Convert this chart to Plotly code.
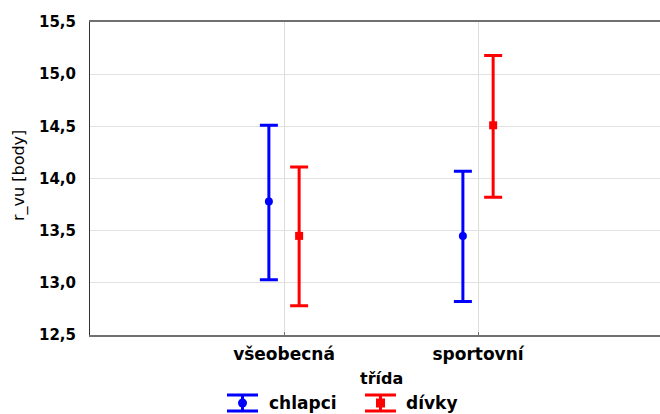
import plotly.graph_objects as go

categories = ["všeobecná", "sportovní"]
chlapci_mean = [13.78, 13.45]
chlapci_upper = [14.51, 14.07]
chlapci_lower = [13.03, 12.82]
divky_mean = [13.45, 14.51]
divky_upper = [14.11, 15.18]
divky_lower = [12.78, 13.82]
series_names = ["chlapci", "dívky"]
series_colors = ["#0000ff", "#ff0000"]

offset = 0.078
xpos = list(range(len(categories)))

def trace(name, means, up, lo, color, symbol, shift):
    return go.Scatter(
        x=[p + shift for p in xpos], y=means, name=name, mode="markers",
        marker=dict(color=color, symbol=symbol, size=8),
        error_y=dict(type="data", symmetric=False,
                     array=[u - m for u, m in zip(up, means)],
                     arrayminus=[m - l for m, l in zip(means, lo)],
                     color=color, thickness=3, width=9),
        showlegend=False,
    )

fig = go.Figure()
fig.add_trace(trace(series_names[0], chlapci_mean, chlapci_upper, chlapci_lower, series_colors[0], "circle", -offset))
fig.add_trace(trace(series_names[1], divky_mean, divky_upper, divky_lower, series_colors[1], "square", offset))

FB = "DejaVu Sans, sans-serif"
L, R, T, B = 90, 0, 22, 79
W, H = 660, 414
pw, ph = W - L - R, H - T - B

def px(x):
    return (x - L) / pw

def py(y):
    return (H - B - y) / ph

# custom legend (error-bar icons)
shapes = []
annotations = []
legend_items = [(227, 267, "circle"), (365, 404, "square")]
for (x0, tx, sym), name, col in zip(legend_items, series_names, series_colors):
    x1 = x0 + 31
    xc = (x0 + x1) / 2
    for yy in (395, 411):
        shapes.append(dict(type="line", xref="paper", yref="paper", x0=px(x0), x1=px(x1), y0=py(yy), y1=py(yy),
                           line=dict(color=col, width=3)))
    shapes.append(dict(type="line", xref="paper", yref="paper", x0=px(xc), x1=px(xc), y0=py(395), y1=py(411),
                       line=dict(color=col, width=3)))
    shapes.append(dict(type="circle" if sym == "circle" else "rect", xref="paper", yref="paper",
                       x0=px(xc - 4.5), x1=px(xc + 4.5), y0=py(398.5), y1=py(407.5),
                       fillcolor=col, line=dict(color=col, width=0)))
    annotations.append(dict(text="<b>%s</b>" % name, xref="paper", yref="paper", x=px(tx), y=py(403),
                            xanchor="left", yanchor="middle", showarrow=False,
                            font=dict(family=FB, size=17, color="#000")))

annotations.append(dict(text="<b>třída</b>", xref="paper", yref="paper", x=px(381), y=py(378),
                        xanchor="center", yanchor="middle", showarrow=False,
                        font=dict(family=FB, size=16, color="#000")))
annotations.append(dict(text="r_vu [body]", xref="paper", yref="paper", x=px(19), y=py(176),
                        xanchor="center", yanchor="middle", showarrow=False, textangle=-90,
                        font=dict(family=FB, size=16, color="#000")))

fig.update_layout(
    width=W, height=H,
    margin=dict(l=L, r=R, t=T, b=B, autoexpand=False),
    plot_bgcolor="white", paper_bgcolor="white",
    separators=", ",
    font=dict(family=FB, color="#000"),
    shapes=shapes, annotations=annotations,
    showlegend=False,
)
fig.update_xaxes(
    range=[-1, 1.938], tickvals=xpos, ticktext=categories,
    showgrid=True, gridcolor="#dcdcdc", gridwidth=1,
    showline=True, linecolor="#707070", linewidth=2, mirror=True,
    ticks="inside", ticklen=3, tickcolor="#707070",
    tickfont=dict(family=FB, size=17, color="#000", weight="bold"),
    ticklabelstandoff=3,
    zeroline=False,
)
fig.update_yaxes(
    range=[12.5, 15.5], tickvals=[12.5, 13.0, 13.5, 14.0, 14.5, 15.0, 15.5], tickformat=".1f",
    showgrid=True, gridcolor="#e2e2e2", gridwidth=1,
    showline=True, linecolor="#333", linewidth=1,
    ticks="", ticklabelstandoff=10,
    tickfont=dict(family=FB, size=15, color="#000", weight="bold"),
    zeroline=False,
)
fig.write_html("out.html")
